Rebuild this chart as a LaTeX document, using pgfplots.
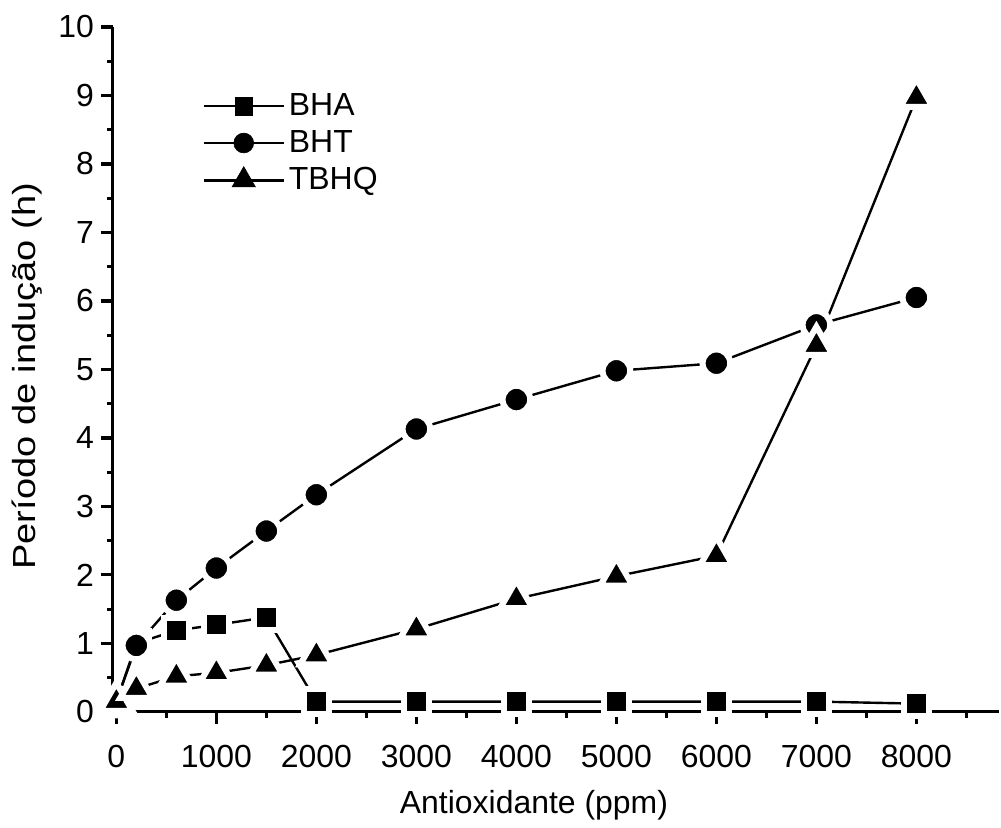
\documentclass[border=0pt]{standalone}
\usepackage{pgfplots}
\pgfplotsset{compat=1.18}
\usepackage{fontspec}
\setmainfont{Liberation Sans}
\begin{document}
\begin{tikzpicture}
\begin{axis}[
  scale only axis, width=444pt, height=343pt,
  xmin=-35, xmax=8830, ymin=0, ymax=10,
  axis x line*=bottom, axis y line*=left,
  axis line style={line width=1.6pt},
  clip=false,
  xtick={0,1000,...,8000}, ytick={0,1,...,10},
  minor xtick={500,1500,...,8500}, minor ytick={0.5,1.5,...,9.5},
  tick align=outside,
  major tick length=6pt, minor tick length=3pt,
  tick style={line width=1.6pt, black},
  /pgf/number format/set thousands separator={},
  /pgf/number format/assume math mode=true,
  ticklabel style={font=\fontsize{16}{18}\selectfont},
  xticklabel style={yshift=-7pt},
  xlabel={Antioxidante (ppm)},
  ylabel={Período de indução (h)},
  every axis x label/.style={at={(axis description cs:0.475,-0.137)}, anchor=center, font=\fontsize{16}{18}\selectfont},
  every axis y label/.style={at={(axis description cs:-0.0965,0.49)}, rotate=90, xscale=1.19, anchor=center, font=\fontsize{16}{18}\selectfont},
  legend style={draw=none, fill=none, at={(axis description cs:0.094,0.915)}, anchor=north west,
    font=\fontsize{16}{18}\selectfont, row sep=2pt,
    /tikz/every even column/.append style={column sep=7pt}},
  legend cell align=left,
  legend image code/.code={%
    \draw[#1, mark=none, line width=1.4pt] (0cm,0cm) -- (1.4cm,0cm);
    \path[#1, every mark/.append style={draw=black,line width=0.3pt,scale=0.72}] plot coordinates {(0.7cm,0cm)};},
]
\addplot[black, line width=1.2pt, mark=square*, mark size=6.2pt, mark options={fill=black, draw=white, line width=3pt}]
  coordinates {(0,0.15)(200,1.0)(600,1.19)(1000,1.27)(1500,1.38)(2000,0.15)(3000,0.15)(4000,0.15)(5000,0.15)(6000,0.15)(7000,0.15)(8000,0.12)};
\addlegendentry{BHA}
\addplot[black, line width=1.2pt, mark=*, mark size=6.9pt, mark options={fill=black, draw=white, line width=3pt}]
  coordinates {(0,0.15)(200,0.97)(600,1.63)(1000,2.1)(1500,2.64)(2000,3.17)(3000,4.13)(4000,4.56)(5000,4.98)(6000,5.09)(7000,5.65)(8000,6.05)};
\addlegendentry{BHT}
\addplot[black, line width=1.2pt, mark=triangle*, mark size=9.35pt, mark options={fill=black, draw=white, line width=3pt}]
  coordinates {(0,0.15)(200,0.34)(600,0.52)(1000,0.57)(1500,0.68)(2000,0.83)(3000,1.21)(4000,1.65)(5000,1.98)(6000,2.28)(7000,5.35)(8000,8.97)};
\addlegendentry{TBHQ}
\draw[line width=1.6pt] (axis cs:-135,0) -- (axis cs:8830,0);
\path (axis description cs:-0.1273,-0.1574) rectangle (axis description cs:1.0,1.0394);
\end{axis}
\end{tikzpicture}
\end{document}
